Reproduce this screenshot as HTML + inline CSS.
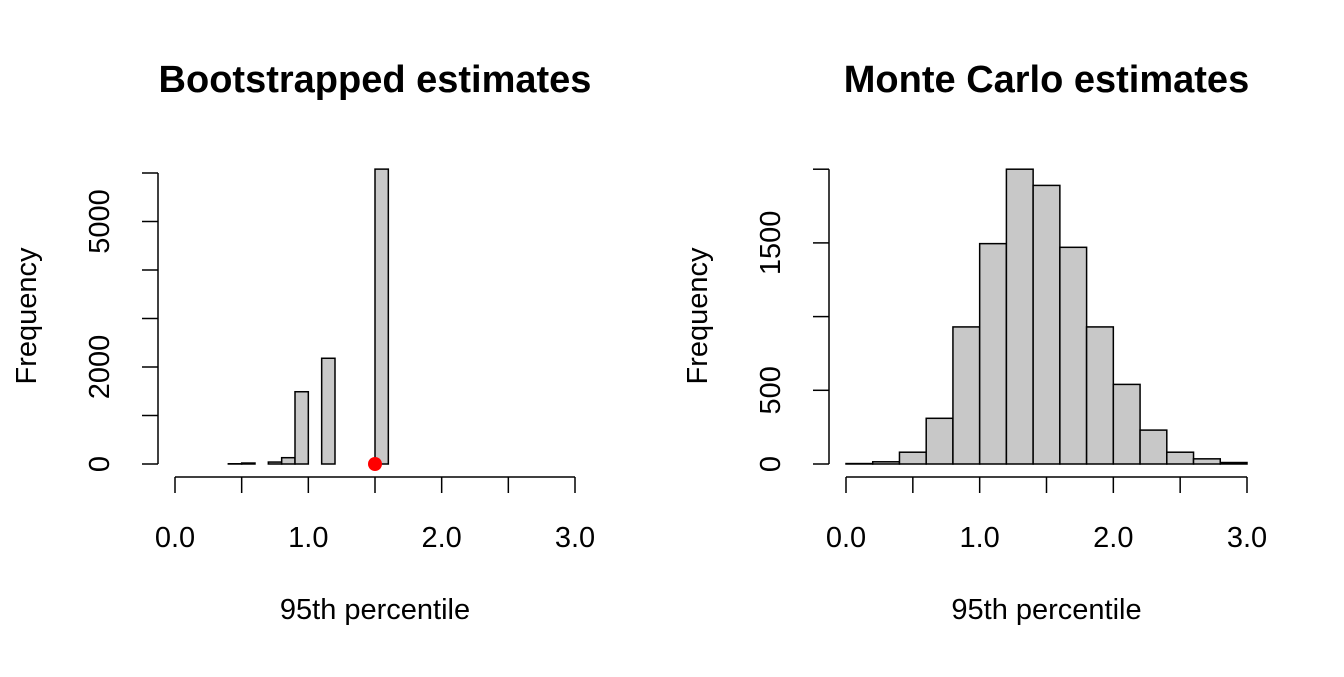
<!DOCTYPE html>
<html><head><meta charset="utf-8"><style>
html,body{margin:0;padding:0;background:#fff;}
svg text{font-family:"Liberation Sans",Arial,sans-serif;fill:#000;}
</style></head><body>
<svg id="chart" width="1344" height="672" viewBox="0 0 1344 672" xmlns="http://www.w3.org/2000/svg"></svg>
<script>
const leftBreaks = [0.4,0.5,0.6,0.7,0.8,0.9,1.0,1.1,1.2,1.3,1.4,1.5,1.6];
const leftCounts = [5,20,0,40,130,1490,0,2180,0,0,0,6080];
const leftYTicks = [0,1000,2000,3000,4000,5000,6000];
const leftYLabels = ["0","","2000","","","5000",""];
const rightBreaks = [0,0.2,0.4,0.6,0.8,1.0,1.2,1.4,1.6,1.8,2.0,2.2,2.4,2.6,2.8,3.0];
const rightCounts = [3,15,80,310,930,1495,2000,1890,1470,930,540,230,80,35,10];
const rightYTicks = [0,500,1000,1500,2000];
const rightYLabels = ["0","500","","1500",""];
const xTicks = [0,0.5,1,1.5,2,2.5,3];
const xLabels = ["0.0","","1.0","","2.0","","3.0"];
const markerPoint = [1.5,0];

const svg = document.getElementById('chart');
const NS = 'http://www.w3.org/2000/svg';
function mk(tag, attrs, parent){const e=document.createElementNS(NS,tag);for(const k in attrs)e.setAttribute(k,attrs[k]);(parent||svg).appendChild(e);return e;}

function panel(cfg){
  const g = mk('g',{});
  
  
  const xs = v => cfg.x0 + (v-0)/(3-0)*(cfg.x1-cfg.x0);
  const ys = v => cfg.y0 - v/cfg.yUnit*cfg.yPx;
  const t = mk('text',{x:(cfg.x0+cfg.x1)/2,y:92,'text-anchor':'middle','font-size':'38','font-weight':'bold'},g);
  t.textContent = cfg.title;
  
  
  for(let i=0;i<cfg.counts.length;i++){
    const xa=xs(cfg.breaks[i]), xb=xs(cfg.breaks[i+1]), yt=ys(cfg.counts[i]);
    const r = mk('rect',{x:xa,y:yt,width:xb-xa,height:cfg.y0-yt,fill:'#c8c8c8',stroke:'#000','stroke-width':'1.5'},g);
    
    
  }
  const xa = mk('g',{},g);
  
  
  const ax = cfg.y0+13;
  mk('line',{x1:xs(0),x2:xs(3),y1:ax,y2:ax,stroke:'#000','stroke-width':'1.5'},xa);
  xTicks.forEach((v,i)=>{
    mk('line',{x1:xs(v),x2:xs(v),y1:ax,y2:ax+16,stroke:'#000','stroke-width':'1.5'},xa);
    if(xLabels[i]){const tx=mk('text',{x:xs(v),y:547,'text-anchor':'middle','font-size':'29'},xa);tx.textContent=xLabels[i];}
  });
  const xt=mk('text',{x:(cfg.x0+cfg.x1)/2,y:619,'text-anchor':'middle','font-size':'29'},g);
  xt.textContent='95th percentile';
  
  
  const ya = mk('g',{},g);
  
  
  const axx = cfg.x0-17;
  const yt0=cfg.yTicks[0], yt1=cfg.yTicks[cfg.yTicks.length-1];
  mk('line',{x1:axx,x2:axx,y1:ys(yt0),y2:ys(yt1),stroke:'#000','stroke-width':'1.5'},ya);
  cfg.yTicks.forEach((v,i)=>{
    mk('line',{x1:axx-16,x2:axx,y1:ys(v),y2:ys(v),stroke:'#000','stroke-width':'1.5'},ya);
    if(cfg.yLabels[i]){const ty=mk('text',{x:0,y:0,'text-anchor':'middle','font-size':'29',transform:`translate(${axx-49},${ys(v)}) rotate(-90)`},ya);ty.textContent=cfg.yLabels[i];}
  });
  const yl=mk('text',{x:0,y:0,'text-anchor':'middle','font-size':'29',transform:`translate(${cfg.x0-139},316) rotate(-90)`},g);
  yl.textContent='Frequency';
  
  
  if(cfg.marker){
    const c=mk('circle',{cx:xs(cfg.marker[0]),cy:ys(cfg.marker[1]),r:7,fill:'#ff0000'},g);
    
    
  }
}
panel({name:'bootstrap-panel',title:'Bootstrapped estimates',x0:175,x1:575,y0:464,yUnit:1000,yPx:48.5,breaks:leftBreaks,counts:leftCounts,yTicks:leftYTicks,yLabels:leftYLabels,marker:markerPoint});
panel({name:'monte-carlo-panel',title:'Monte Carlo estimates',x0:846,x1:1247,y0:464,yUnit:500,yPx:73.7,breaks:rightBreaks,counts:rightCounts,yTicks:rightYTicks,yLabels:rightYLabels});
</script>
</body></html>
